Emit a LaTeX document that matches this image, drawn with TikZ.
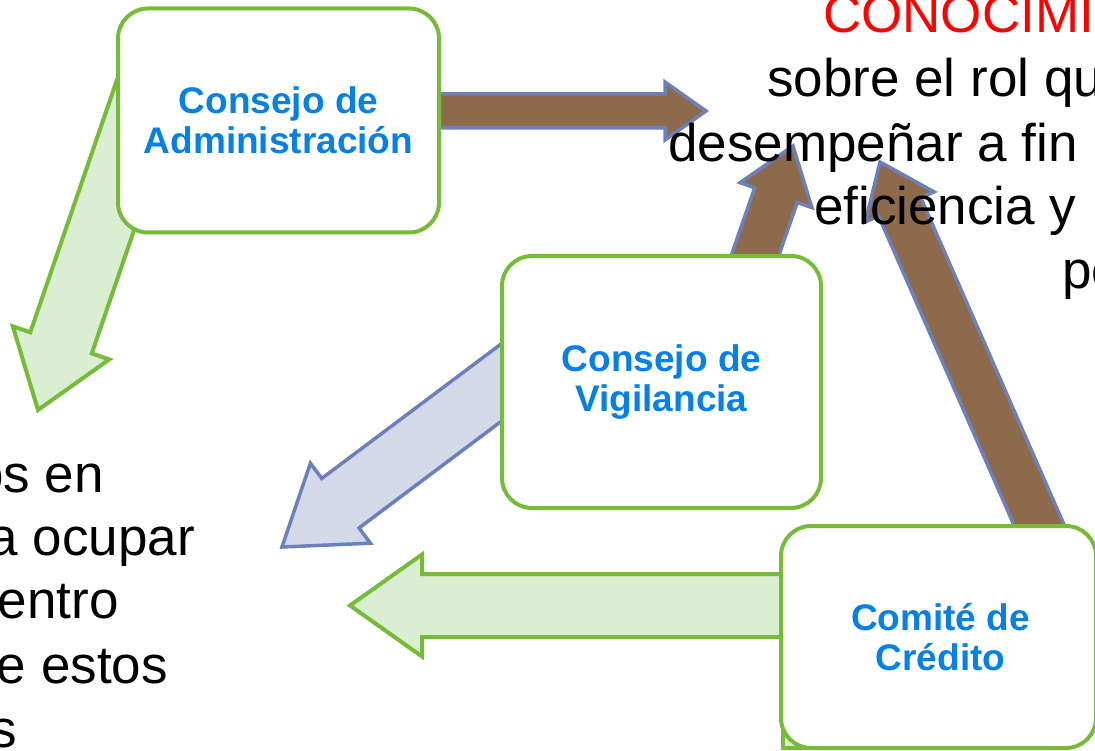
\documentclass[tikz,border=0pt]{standalone}
\usepackage{fontspec}
\setmainfont{Liberation Sans}
\usetikzlibrary{calc}
\definecolor{boxgreen}{RGB}{118,188,56}
\definecolor{lightgreen}{RGB}{218,238,209}
\definecolor{arrowbrown}{RGB}{141,106,76}
\definecolor{arrowblue}{RGB}{108,129,186}
\definecolor{lightblue}{RGB}{212,218,234}
\definecolor{boxtext}{RGB}{4,128,232}
% #1 style, #2 start, #3 tip, #4 body half width, #5 head half width, #6 head length
\newcommand\blockarrow[6]{%
  \path ($(#3)!#6!(#2)$) coordinate (ba-base);
  \draw[#1] ($(#2)!#4!90:(#3)$) -- ($(ba-base)!#4!90:(#3)$) -- ($(ba-base)!#5!90:(#3)$)
    -- (#3) -- ($(ba-base)!#5!-90:(#3)$) -- ($(ba-base)!#4!-90:(#3)$)
    -- ($(#2)!#4!-90:(#3)$) -- cycle;
}
\begin{document}
\begin{tikzpicture}[x=1pt,y=-1pt,
  box/.style={draw=boxgreen, line width=4pt, fill=white, rounded corners=30pt,
    inner sep=0pt, align=center, text=boxtext,
    font=\fontsize{37}{40}\selectfont\bfseries},
  txt/.style={inner sep=0pt, anchor=base west, font=\fontsize{53}{64}\selectfont},
  rtxt/.style={txt, anchor=base east},
  brownarrow/.style={draw=arrowblue, fill=arrowbrown, line width=3.5pt, line join=miter},
  bluearrow/.style={draw=arrowblue, fill=lightblue, line width=3.5pt, line join=miter},
  greenarrow/.style={draw=boxgreen, fill=lightgreen, line width=4pt, line join=miter}]
\clip (0,0) rectangle (1095,751);

% box centres
\coordinate (adminC) at (278.5,120.5);
\coordinate (vigC) at (661.5,382);
\coordinate (credC) at (938.5,637);

% arrow start points (hidden under the boxes)
\coordinate (sA) at ($(adminC)+(21.5,-9.5)$);
\coordinate (sD) at ($(adminC)+(-125.5,-45.5)$);
\coordinate (sB) at ($(vigC)+(66,-47)$);
\coordinate (sE) at ($(vigC)+(-123.5,-27)$);
\coordinate (sC) at ($(credC)+(122,-63)$);
\coordinate (sF) at ($(credC)+(-39,-31.5)$);

% arrow tips
\coordinate (tipA) at (706,111);
\coordinate (tipB) at (793,146);
\coordinate (tipC) at (880,162);
\coordinate (tipD) at (38,410);
\coordinate (tipE) at (282,547);
\coordinate (tipF) at (350,605.5);

% shape behind the credit box
\draw[greenarrow] (782.5,660) rectangle (880,747.5);

\blockarrow{greenarrow}{sD}{tipD}{32.5pt}{51pt}{71pt}
\blockarrow{greenarrow}{sF}{tipF}{31.5pt}{51pt}{72pt}
\blockarrow{bluearrow}{sE}{tipE}{31pt}{50pt}{73pt}
\blockarrow{brownarrow}{sA}{tipA}{17pt}{29pt}{41pt}
\blockarrow{brownarrow}{sB}{tipB}{22.5pt}{38pt}{52pt}
\blockarrow{brownarrow}{sC}{tipC}{23pt}{37.5pt}{49pt}

% boxes
\node[box, minimum width=321pt, minimum height=224pt] (admin) at (adminC) {Consejo de\\Administración};
\node[box, minimum width=319pt, minimum height=252pt] (vig) at (vigC) {Consejo de\\Vigilancia};
\node[box, minimum width=315pt, minimum height=222pt] (cred) at (credC) {\hspace*{4pt}Comité de\\\hspace*{4pt}Crédito};

% texts
\node[txt, text=red] (k1) at (823,33) {CONOCIMI};
\node[txt] (k2) at (767,97) {sobre el rol qu};
\node[txt] (k3) at (668,162) {desempeñar a fin};
\node[txt] (k4) at (814,225) {eficiencia y};
\node[txt] (k5) at (1062,289) {pe};

\node[rtxt] (l1) at (104,492) {os en};
\node[rtxt] (l2) at (195,555) {a ocupar};
\node[rtxt] (l3) at (119,618) {entro};
\node[rtxt] (l4) at (168,683) {e estos};
\node[rtxt] (l5) at (17,747) {s};
\end{tikzpicture}
\end{document}
